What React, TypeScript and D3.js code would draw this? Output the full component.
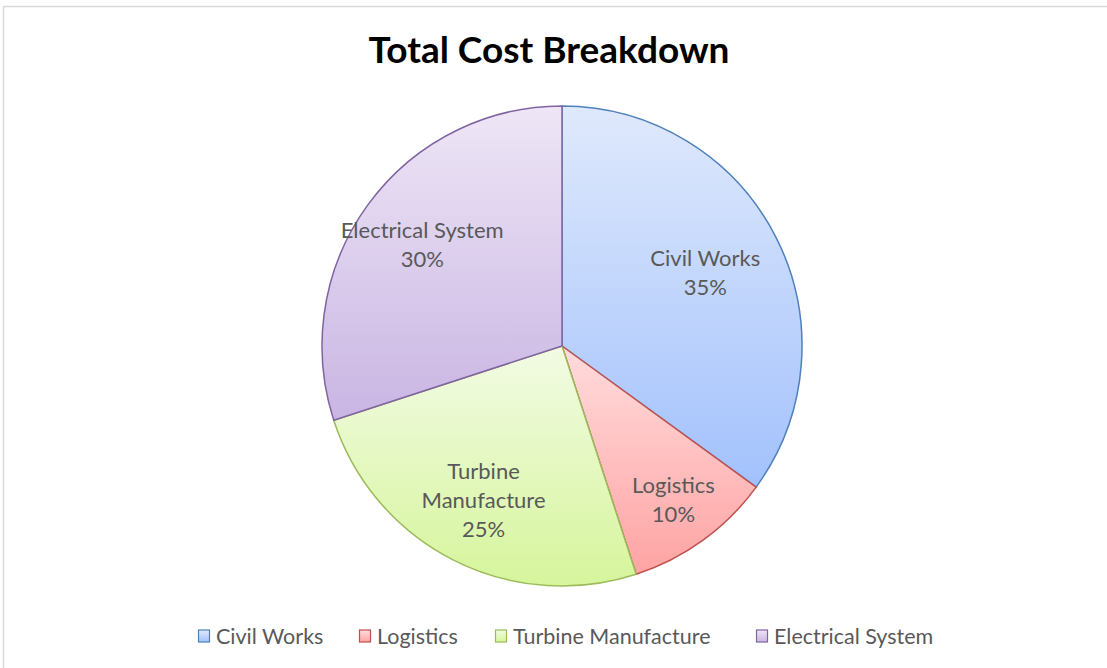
import React from "react";
import * as d3 from "d3";

const categories = ["Civil Works", "Logistics", "Turbine Manufacture", "Electrical System"];
const values = [35, 10, 25, 30];
const labelLines = [["Civil Works"], ["Logistics"], ["Turbine", "Manufacture"], ["Electrical System"]];
const strokeColors = ["#4f81bd", "#c0504d", "#9bbb59", "#8064a2"];
const topColors = ["#dfe9fc", "#ffdcdc", "#f2fbe4", "#eee6f6"];
const bottomColors = ["#a2c1fc", "#ffa3a3", "#d6f59c", "#c9b5e3"];
const labelRadiusFactor = [0.67, 0.79, 0.72, 0.72];
const labelDx = [0, 0, 0, 0];

export default function App() {
  const W = 1107, H = 668;
  const cx = 562, cy = 346, R = 240;
  const total = d3.sum(values);
  const pie = d3.pie<number>().sort(null).value((d) => d)(values);
  const arc = d3.arc<d3.PieArcDatum<number>>().innerRadius(0).outerRadius(R);
  const font = "Lato, 'Open Sans', sans-serif";
  const legendX = [198, 359, 495, 756];
  return (
    <svg width={W} height={H} style={{ position: "absolute", left: 0, top: 0 }} fontFamily={font}>
      <defs>
        {categories.map((c, i) => (
          <linearGradient key={c} id={`g${i}`} x1="0" y1="0" x2="0" y2="1">
            <stop offset="0" stopColor={topColors[i]} />
            <stop offset="1" stopColor={bottomColors[i]} />
          </linearGradient>
        ))}
      </defs>
      <rect x={3.5} y={6.5} width={W + 10} height={H + 10} fill="white" stroke="#d9d9d9" strokeWidth={1.5} />
      <text x={cx - 13} y={63} textAnchor="middle" fontSize={37} fontWeight="bold" fill="#000">
        Total Cost Breakdown
      </text>
      <g transform={`translate(${cx},${cy})`}>
        {pie.map((p, i) => (
          <path key={i} d={arc(p) || ""} fill={`url(#g${i})`} stroke={strokeColors[i]} strokeWidth={1.5} strokeLinejoin="round" />
        ))}
        {pie.map((p, i) => {
          const la = d3.arc<d3.PieArcDatum<number>>().innerRadius(R * labelRadiusFactor[i]).outerRadius(R * labelRadiusFactor[i]);
          const [lx, ly] = la.centroid(p);
          const lines = [...labelLines[i], `${Math.round((values[i] / total) * 100)}%`];
          const lh = 29;
          const y0 = ly - ((lines.length - 1) * lh) / 2;
          return (
            <text key={"t" + i} x={lx + labelDx[i]} textAnchor="middle" fontSize={22} fill="#595959">
              {lines.map((l, j) => (
                <tspan key={j} x={lx + labelDx[i]} y={y0 + j * lh} dy="0.35em">{l}</tspan>
              ))}
            </text>
          );
        })}
      </g>
      {categories.map((c, i) => (
        <g key={"lg" + i} transform={`translate(${legendX[i]},636)`}>
          <rect x={0.5} y={-6} width={11} height={12} fill={`url(#g${i})`} stroke={strokeColors[i]} strokeWidth={1.2} />
          <text x={18} y={0} dy="0.35em" fontSize={21.5} fill="#595959">{c}</text>
        </g>
      ))}
    </svg>
  );
}
